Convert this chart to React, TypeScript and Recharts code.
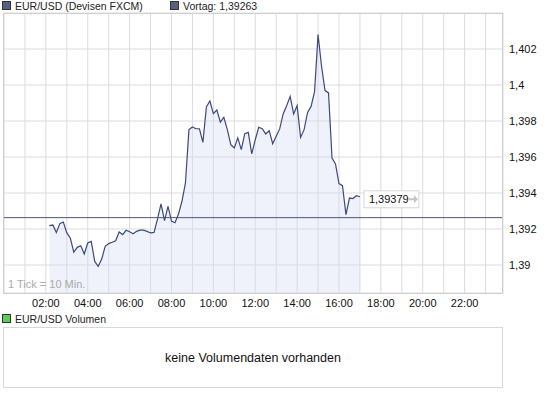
import React from 'react';
import { ComposedChart, Area, XAxis, YAxis, CartesianGrid, ReferenceLine, ReferenceDot } from 'recharts';

// 10-minute ticks; first point is 02:10 (tick 13), last is 17:00
const startTick = 13;
const prices = [
  1.39219, 1.39222, 1.39181, 1.3923, 1.39239, 1.39178, 1.3915, 1.39072, 1.39098, 1.39107,
  1.39061, 1.39122, 1.39131, 1.3902, 1.38993, 1.39033, 1.39104, 1.39119, 1.39126, 1.39135,
  1.39183, 1.39169, 1.39193, 1.39185, 1.39174, 1.39187, 1.39194, 1.39194, 1.39187, 1.39178,
  1.39181, 1.39256, 1.39339, 1.39246, 1.39326, 1.39244, 1.39235, 1.39283, 1.39354, 1.39456,
  1.39752, 1.39767, 1.39757, 1.39757, 1.39681, 1.39878, 1.39911, 1.39841, 1.39861, 1.39794,
  1.3982, 1.39752, 1.39669, 1.3965, 1.39706, 1.39641, 1.3973, 1.39737, 1.39617, 1.39696,
  1.39765, 1.39757, 1.39728, 1.39746, 1.39674, 1.39715, 1.39756, 1.39839, 1.39885, 1.39937,
  1.39839, 1.39885, 1.39709, 1.39752, 1.39848, 1.39881, 1.39963, 1.4028, 1.40104, 1.39969,
  1.39956, 1.39594, 1.39561, 1.39452, 1.39441, 1.3928, 1.39372, 1.39369, 1.39385, 1.39379,
];
const prevClose = 1.39263;
const hourLabels = ['02:00', '04:00', '06:00', '08:00', '10:00', '12:00', '14:00', '16:00', '18:00', '20:00', '22:00'];
const yTicks = [1.39, 1.392, 1.394, 1.396, 1.398, 1.4, 1.402];

const data = prices.map((price, i) => ({ t: startTick + i, price }));
const last = data[data.length - 1];
const hourTicks = Array.from({ length: 24 }, (_, h) => h * 6);

const de = (v: number, digits?: number) =>
  (digits ? v.toFixed(digits) : String(v)).replace('.', ',');

const LastValueTag = (props: any) => {
  const { cx, cy } = props;
  const x = cx + 4;
  const y = cy - 6;
  return (
    <g>
      <rect x={x} y={y} width={55} height={17} fill="#fff" stroke="#d8d8d8" />
      <text x={x + 5} y={y + 12.5} fontSize={11} fill="#111">{de(last.price, 5)}</text>
      <path d={`M${x + 45} ${y + 7.5} h5 v-3 l4 4 l-4 4 v-3 h-5 z`} fill="#c4c4c4" />
    </g>
  );
};

const Square = ({ color }: { color: string }) => (
  <span style={{ display: 'inline-block', width: 7, height: 7, background: color, border: '1px solid #333', marginRight: 4 }} />
);

export default function App() {
  return (
    <div style={{ position: 'absolute', left: 0, top: 0, width: 545, height: 395, fontFamily: '"Liberation Sans", Arial, sans-serif', color: '#222', background: '#fff' }}>
      <div style={{ position: 'absolute', left: 2, top: 0, fontSize: 10.5, lineHeight: '12px', whiteSpace: 'nowrap' }}>
        <Square color="#55627f" />EUR/USD (Devisen FXCM)
      </div>
      <div style={{ position: 'absolute', left: 170, top: 0, fontSize: 10.5, lineHeight: '12px', whiteSpace: 'nowrap' }}>
        <Square color="#55627f" />Vortag: {de(prevClose, 5)}
      </div>

      <div style={{ position: 'absolute', left: 0, top: 0 }}>
        <ComposedChart width={545} height={315} data={data} margin={{ top: 13, right: 0, bottom: 0, left: 4 }}>
          <CartesianGrid stroke="#dcdcdc" vertical horizontal />
          <XAxis
            dataKey="t"
            type="number"
            domain={[0, 143]}
            ticks={hourTicks}
            interval={0}
            height={22}
            tickLine={false}
            axisLine={false}
            tickSize={0}
            tickMargin={6}
            tick={{ fontSize: 11, fill: '#111' }}
            tickFormatter={(t: number) => (t % 12 === 0 && t > 0 ? hourLabels[t / 12 - 1] : '')}
          />
          <YAxis
            orientation="right"
            type="number"
            domain={[1.388444, 1.404]}
            allowDataOverflow
            ticks={yTicks}
            width={42}
            tickLine={false}
            axisLine={false}
            tickSize={0}
            tickMargin={6}
            tick={{ fontSize: 11, fill: '#111', textAnchor: 'start' }}
            tickFormatter={(v: number) => de(v)}
          />
          <Area
            type="linear"
            dataKey="price"
            stroke="#3b4a7a"
            strokeWidth={1.2}
            fill="#d0daf0"
            fillOpacity={0.35}
            dot={false}
            activeDot={false}
            isAnimationActive={false}
          />
          <ReferenceLine y={prevClose} stroke="#4b5779" strokeWidth={1} />
          <ReferenceDot x={last.t} y={last.price} r={0} shape={LastValueTag} />
        </ComposedChart>
      </div>

      <div style={{ position: 'absolute', left: 3, top: 13, width: 500, height: 281, border: '1px solid #cfcfcf', boxSizing: 'border-box', pointerEvents: 'none' }} />
      <div style={{ position: 'absolute', left: 8, top: 278, fontSize: 11, color: '#aaa', whiteSpace: 'nowrap' }}>1 Tick = 10 Min.</div>

      <div style={{ position: 'absolute', left: 2, top: 313, fontSize: 10.5, lineHeight: '12px', whiteSpace: 'nowrap' }}>
        <Square color="#5ccc5c" />EUR/USD Volumen
      </div>
      <div style={{ position: 'absolute', left: 3, top: 327, width: 500, height: 61, border: '1px solid #d8d8d8', boxSizing: 'border-box', display: 'flex', alignItems: 'center', justifyContent: 'center', fontSize: 12.5, color: '#111' }}>
        keine Volumendaten vorhanden
      </div>
    </div>
  );
}
